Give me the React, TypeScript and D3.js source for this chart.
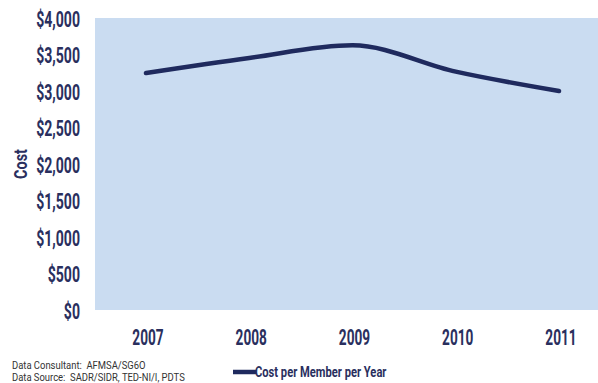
import React from "react";
import * as d3 from "d3";

const years = ["2007", "2008", "2009", "2010", "2011"];
const costs = [3246, 3452, 3625, 3265, 3000];
const yTicks = [0, 500, 1000, 1500, 2000, 2500, 3000, 3500, 4000];
const seriesName = "Cost per Member per Year";
const notes = ["Data Consultant:  AFMSA/SG6O", "Data Source:  SADR/SIDR, TED-NI/I, PDTS"];

const W = 598, H = 383;
const plot = { left: 95, right: 598, top: 18, bottom: 310 };
const navy = "#2a2f5e";
const lineColor = "#1f2a5e";
const bg = "#cadcf1";
const font = "Roboto, 'DejaVu Sans', sans-serif";
const sx = 0.62;

function T(props: { x: number; y: number; size: number; anchor?: string; bold?: boolean; scale?: number; fill?: string; rotate?: boolean; children: React.ReactNode }) {
  const s = props.scale ?? sx;
  const tr = props.rotate
    ? `translate(${props.x},${props.y}) rotate(-90) scale(${s},1)`
    : `translate(${props.x},${props.y}) scale(${s},1)`;
  return (
    <text transform={tr} dy="0.35em" textAnchor={props.anchor || "start"} fontFamily={font} fontWeight={props.bold === false ? "normal" : "bold"} fontSize={props.size} fill={props.fill || navy} style={{ whiteSpace: "pre" }}>
      {props.children}
    </text>
  );
}

export default function App() {
  const x = d3.scalePoint().domain(years).range([146, 559]);
  const y = d3.scaleLinear().domain([0, 4000]).range([plot.bottom, plot.top]);
  const line = d3
    .line<number>()
    .x((_, i) => x(years[i]) as number)
    .y((d) => y(d))
    .curve(d3.curveMonotoneX);
  return (
    <svg width={W} height={H} style={{ position: "absolute", left: 0, top: 0, background: "#fff" }}>
      <rect x={plot.left} y={plot.top} width={plot.right - plot.left} height={plot.bottom - plot.top} fill={bg} />
      {yTicks.map((t) => (
        <T key={t} x={80} y={y(t) + 1} size={22} anchor="end" scale={0.64}>
          {"$" + d3.format(",")(t)}
        </T>
      ))}
      <T x={21} y={164} size={18} anchor="middle" rotate scale={0.8}>
        Cost
      </T>
      {years.map((yr) => (
        <T key={yr} x={(x(yr) as number) + 2} y={337} size={22} anchor="middle">
          {yr}
        </T>
      ))}
      <path d={line(costs) || ""} fill="none" stroke={lineColor} strokeWidth={4.5} strokeLinecap="round" />
      <line x1={233} x2={256} y1={372} y2={372} stroke={lineColor} strokeWidth={4.5} />
      <T x={255} y={372} size={15.5} scale={0.72}>
        {seriesName}
      </T>
      {notes.map((n, i) => (
        <T key={n} x={12} y={365 + i * 12} size={10.5} bold={false} scale={0.9} fill="#333">
          {n}
        </T>
      ))}
    </svg>
  );
}
